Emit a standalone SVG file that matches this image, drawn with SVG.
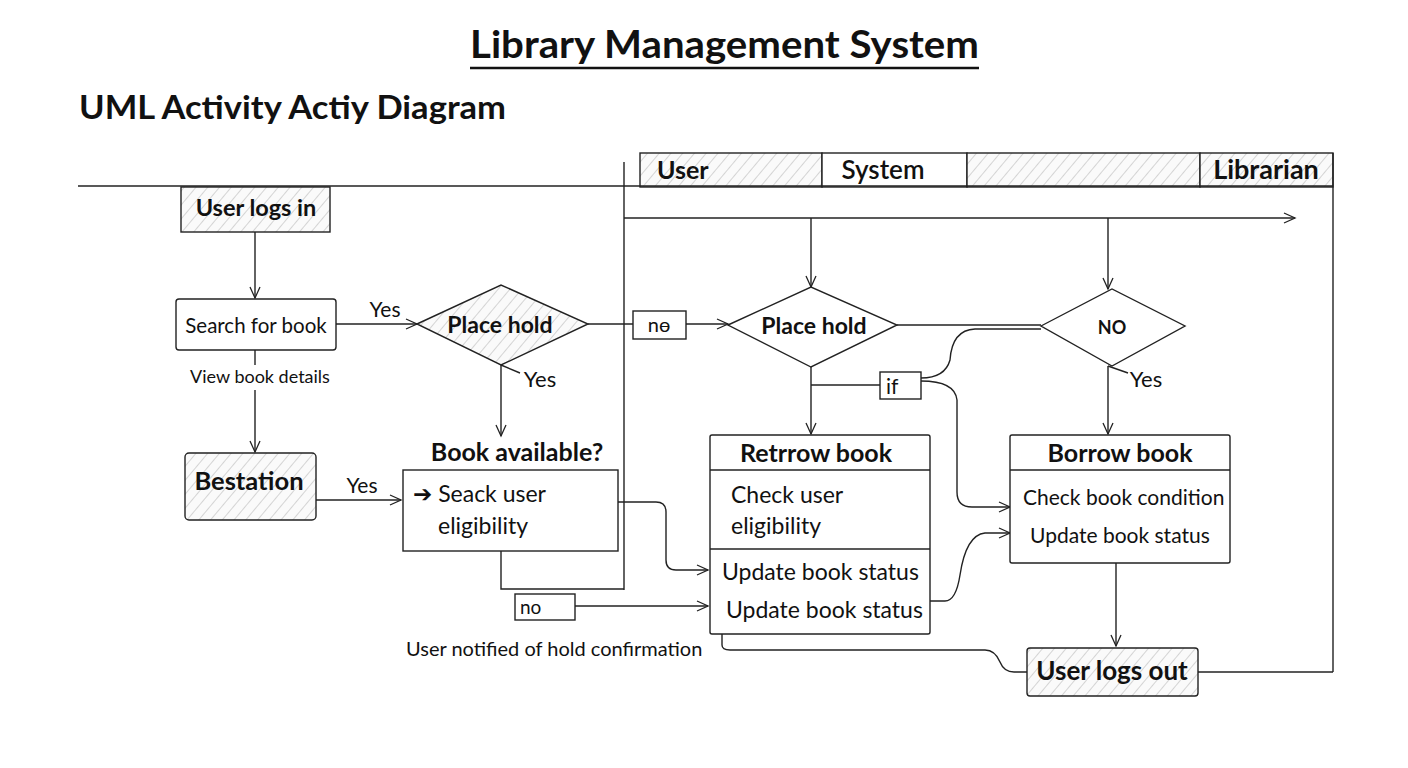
<svg xmlns="http://www.w3.org/2000/svg" width="1408" height="768" viewBox="0 0 1408 768">
<defs>
<pattern id="hatch" width="9" height="9" patternUnits="userSpaceOnUse" patternTransform="rotate(40)">
<rect width="9" height="9" fill="#fafafa"/>
<line x1="0" y1="0" x2="0" y2="9" stroke="#9a9a9a" stroke-width="0.8"/>
</pattern>
<marker id="arr" markerWidth="14" markerHeight="14" refX="12" refY="7" orient="auto" markerUnits="userSpaceOnUse">
<polyline points="1,2 12,7 1,12" fill="none" stroke="#222" stroke-width="1.3"/>
</marker>
</defs>
<style>
text{font-family:Lato,"Open Sans","DejaVu Sans",sans-serif;fill:#111}
.b{font-weight:bold}
.ln{fill:none;stroke:#222;stroke-width:1.4}
.box{fill:#fff;stroke:#222;stroke-width:1.4}
.hb{fill:url(#hatch);stroke:#222;stroke-width:1.4}
</style>
<rect width="1408" height="768" fill="#fff"/>
<g id="title">
<text x="470" y="58" class="b" font-size="38" textLength="509" lengthAdjust="spacingAndGlyphs">Library Management System</text>
<line x1="470" y1="68" x2="979" y2="68" stroke="#111" stroke-width="2.5"/>
<text x="79" y="119" class="b" font-size="32" textLength="427" lengthAdjust="spacingAndGlyphs">UML Activity Actiy Diagram</text>
</g>
<g id="swimlanes">
<rect x="640" y="153" width="182" height="34" class="hb"/>
<rect x="822" y="153" width="145" height="34" class="box"/>
<rect x="967" y="153" width="233" height="34" class="hb"/>
<rect x="1200" y="153" width="133" height="34" class="hb"/>
<text x="657" y="179" class="b" font-size="25">User</text>
<text x="883" y="179" font-size="26" text-anchor="middle" style="font-weight:600">System</text>
<text x="1266" y="179" class="b" font-size="27" text-anchor="middle">Librarian</text>
<line x1="78" y1="186" x2="1333" y2="186" class="ln"/>
<line x1="1333" y1="153" x2="1333" y2="672" class="ln"/>
<line x1="624" y1="162" x2="624" y2="590" class="ln"/>
</g>
<g id="connectors">
<line x1="624" y1="218" x2="1295" y2="218" class="ln" marker-end="url(#arr)"/>
<line x1="811" y1="218" x2="811" y2="287" class="ln" marker-end="url(#arr)"/>
<line x1="1108" y1="218" x2="1108" y2="289" class="ln" marker-end="url(#arr)"/>
<line x1="255" y1="232" x2="255" y2="298" class="ln" marker-end="url(#arr)"/>
<line x1="255" y1="350" x2="255" y2="365" class="ln"/>
<line x1="255" y1="390" x2="255" y2="452" class="ln" marker-end="url(#arr)"/>
<line x1="336" y1="324" x2="417" y2="324" class="ln" marker-end="url(#arr)"/>
<line x1="316" y1="500" x2="401" y2="500" class="ln" marker-end="url(#arr)"/>
<line x1="501" y1="365" x2="501" y2="436" class="ln" marker-end="url(#arr)"/>
<line x1="501" y1="365" x2="520" y2="373" class="ln"/>
<polyline points="501,551 501,589 624,589" class="ln"/>
<path d="M618,502 H656 Q666,502 666,512 V560 Q666,570 676,570 H708" class="ln" marker-end="url(#arr)"/>
<line x1="575" y1="606" x2="708" y2="606" class="ln" marker-end="url(#arr)"/>
<line x1="588" y1="324" x2="633" y2="324" class="ln"/>
<line x1="686" y1="324" x2="728" y2="324" class="ln" marker-end="url(#arr)"/>
<line x1="897" y1="325" x2="1041" y2="325" class="ln"/>
<line x1="811" y1="367" x2="811" y2="434" class="ln" marker-end="url(#arr)"/>
<line x1="811" y1="385" x2="880" y2="385" class="ln"/>
<path d="M921,378 Q945,378 950,360 Q952,330 975,329 H1041" class="ln"/>
<path d="M921,381 Q955,381 957,400 V492 Q957,507 972,507 H1010" class="ln" marker-end="url(#arr)"/>
<line x1="1108" y1="366" x2="1108" y2="434" class="ln" marker-end="url(#arr)"/>
<line x1="1108" y1="366" x2="1128" y2="373" class="ln"/>
<path d="M930,601 H945 Q956,601 960,575 Q966,535 985,533 H1010" class="ln" marker-end="url(#arr)"/>
<line x1="1116" y1="563" x2="1116" y2="646" class="ln" marker-end="url(#arr)"/>
<path d="M722,634 V645 Q722,650 730,650 H985 Q995,650 1000,662 Q1004,672 1014,672 H1027" class="ln"/>
<polyline points="1198,672 1333,672" class="ln"/>
</g>
<g id="user-logs-in">
<rect x="181" y="187" width="149" height="45" class="hb"/>
<text x="256" y="216" class="b" font-size="23.5" text-anchor="middle">User logs in</text>
</g>
<g id="search-for-book">
<rect x="176" y="299" width="160" height="51" rx="3" class="box"/>
<text x="256" y="333" font-size="20.5" text-anchor="middle">Search for book</text>
<text x="260" y="383" font-size="18" text-anchor="middle">View book details</text>
</g>
<g id="bestation">
<rect x="185" y="453" width="131" height="67" rx="4" class="hb"/>
<text x="249" y="490" class="b" font-size="25.5" text-anchor="middle">Bestation</text>
</g>
<g id="labels">
<text x="385" y="317" font-size="21" text-anchor="middle">Yes</text>
<text x="540" y="387" font-size="22" text-anchor="middle">Yes</text>
<text x="362" y="493" font-size="21" text-anchor="middle">Yes</text>
<text x="1146" y="387" font-size="22" text-anchor="middle">Yes</text>
</g>
<g id="place-hold-1">
<polygon points="417,324 501,285 588,324 501,365" class="hb"/>
<text x="500" y="333" class="b" font-size="23" text-anchor="middle">Place hold</text>
</g>
<g id="book-available">
<text x="517" y="461" class="b" font-size="25" text-anchor="middle">Book available?</text>
<rect x="403" y="470" width="215" height="81" class="box"/>
<text x="413" y="502" font-size="23">➔ Seack user</text>
<text x="438" y="534" font-size="23">eligibility</text>
</g>
<g id="no-label-1">
<rect x="515" y="594" width="60" height="26" class="box"/>
<text x="520" y="614" font-size="19">no</text>
<text x="406" y="656" font-size="20">User notified of hold confirmation</text>
</g>
<g id="no-label-2">
<rect x="633" y="311" width="53" height="28" class="box"/>
<text x="659" y="332" font-size="20" text-anchor="middle">nɵ</text>
</g>
<g id="place-hold-2">
<polygon points="728,325 811,287 897,325 811,367" class="box"/>
<text x="814" y="334" class="b" font-size="23" text-anchor="middle">Place hold</text>
</g>
<g id="no-diamond">
<polygon points="1041,326 1112,289 1185,326 1112,366" class="box"/>
<text x="1112" y="334" class="b" font-size="18" text-anchor="middle">NO</text>
</g>
<g id="if-label">
<rect x="880" y="372" width="41" height="27" class="box"/>
<text x="886" y="394" font-size="21">if</text>
</g>
<g id="retrrow-book">
<rect x="710" y="435" width="220" height="199" rx="2" class="box"/>
<line x1="710" y1="470" x2="930" y2="470" class="ln"/>
<line x1="710" y1="549" x2="930" y2="549" class="ln"/>
<text x="816" y="462" class="b" font-size="25" text-anchor="middle">Retrrow book</text>
<text x="731" y="503" font-size="23">Check user</text>
<text x="731" y="534" font-size="23">eligibility</text>
<text x="722" y="580" font-size="23">Update book status</text>
<text x="726" y="618" font-size="23">Update book status</text>
</g>
<g id="borrow-book">
<rect x="1010" y="435" width="220" height="128" rx="2" class="box"/>
<line x1="1010" y1="470" x2="1230" y2="470" class="ln"/>
<text x="1120" y="462" class="b" font-size="25" text-anchor="middle">Borrow book</text>
<text x="1023" y="505" font-size="21">Check book condition</text>
<text x="1030" y="543" font-size="21">Update book status</text>
</g>
<g id="user-logs-out">
<rect x="1027" y="648" width="171" height="48" rx="3" class="hb"/>
<text x="1112" y="680" class="b" font-size="26" text-anchor="middle">User logs out</text>
</g>
</svg>
